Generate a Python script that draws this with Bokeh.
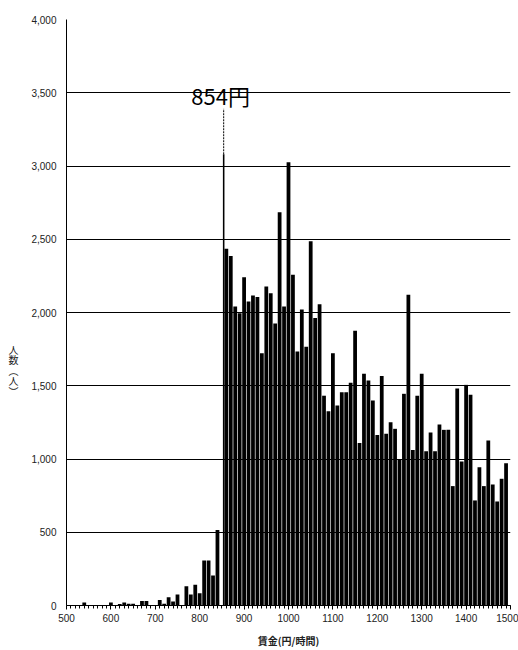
from bokeh.plotting import figure
from bokeh.models import Range1d, NumeralTickFormatter, Label, FixedTicker
from bokeh.embed import file_html
from bokeh.resources import INLINE

# ---- data ----
wages = list(range(500, 1500, 10))
counts = [
    0, 0, 0, 0, 20, 0, 0, 0, 0, 0,            # 500-590
    20, 0, 10, 20, 12, 12, 0, 30, 30, 0,       # 600-690
    0, 38, 12, 57, 28, 75, 0, 132, 75, 141,    # 700-790
    84, 307, 307, 205, 516, 0, 2435, 2385, 2041, 1995,  # 800-890
    2241, 2075, 2116, 2105, 1722, 2177, 2132, 1925, 2685, 2041,  # 900-990
    3026, 2257, 1734, 2020, 1766, 2486, 1962, 2057, 1432, 1326,  # 1000-1090
    1722, 1365, 1456, 1456, 1520, 1876, 1110, 1582, 1536, 1400,  # 1100-1190
    1163, 1566, 1172, 1251, 1206, 1000, 1445, 2121, 1062, 1432,  # 1200-1290
    1582, 1053, 1181, 1053, 1235, 1199, 1199, 815, 1481, 983,    # 1300-1390
    1506, 1438, 717, 944, 815, 1126, 826, 710, 865, 971,         # 1400-1490
]
min_wage = 854
min_wage_count = 3080
x_ticks = list(range(500, 1501, 100))
x_minor = list(range(500, 1501, 10))
y_ticks = list(range(0, 4001, 500))
x_title = "賃金(円/時間)"
y_title_chars = ["人", "数", "︵", "人", "︶"]

FONT = "Liberation Sans"
JP = "Noto Sans CJK JP"

p = figure(width=518, height=650, output_backend="svg", toolbar_location=None,
           x_range=Range1d(500, 1500), y_range=Range1d(0, 4000),
           min_border_left=66, min_border_right=8, min_border_top=19,
           min_border_bottom=45)
p.outline_line_color = None
p.background_fill_color = "white"
p.border_fill_color = "white"

p.vbar(x=wages, top=counts, width=8.5, fill_color="black", line_color=None)
p.vbar(x=[min_wage], top=[min_wage_count], width=3.5, fill_color="black", line_color=None)

# dashed marker above the minimum-wage bar
p.segment(x0=[min_wage], y0=[min_wage_count], x1=[min_wage], y1=[3390],
          line_color="black", line_width=1, line_dash="2 1")
p.add_layout(Label(x=min_wage, y=3486, text=f"{min_wage}円", text_align="center",
                   text_baseline="alphabetic", x_offset=-3,
                   text_font=JP, text_font_size="22px", text_color="black"))

# grid
p.xgrid.grid_line_color = None
p.ygrid.ticker = FixedTicker(ticks=y_ticks)
p.ygrid.grid_line_color = "black"
p.ygrid.grid_line_width = 1

# y axis
p.yaxis.ticker = FixedTicker(ticks=y_ticks)
p.yaxis.formatter = NumeralTickFormatter(format="0,0")
p.yaxis.major_tick_out = 0
p.yaxis.major_tick_in = 0
p.yaxis.minor_tick_out = 0
p.yaxis.minor_tick_in = 0
p.yaxis.major_label_standoff = 10
p.yaxis.major_label_text_font = FONT
p.yaxis.major_label_text_font_size = "10px"
p.yaxis.major_label_text_color = "#222222"
p.yaxis.axis_line_color = "black"
p.yaxis.axis_label = "\n" * 11 + "\n".join(y_title_chars)
p.yaxis.axis_label_orientation = "horizontal"
p.yaxis.axis_label_standoff = 10
p.yaxis.axis_label_text_font = JP
p.yaxis.axis_label_text_font_size = "10px"
p.yaxis.axis_label_text_font_style = "normal"
p.yaxis.axis_label_text_color = "#222222"
p.yaxis.axis_label_text_line_height = 0.7

# x axis
p.xaxis.ticker = FixedTicker(ticks=x_ticks, minor_ticks=x_minor)
p.xaxis.major_tick_out = 4
p.xaxis.major_tick_in = 0
p.xaxis.minor_tick_out = 3
p.xaxis.minor_tick_in = 0
p.xaxis.major_tick_line_color = "black"
p.xaxis.minor_tick_line_color = "black"
p.xaxis.major_label_standoff = 4
p.xaxis.major_label_text_font = FONT
p.xaxis.major_label_text_font_size = "10px"
p.xaxis.major_label_text_color = "#222222"
p.xaxis.axis_line_color = "black"
p.xaxis.axis_label = x_title
p.xaxis.axis_label_standoff = 8
p.xaxis.axis_label_text_font = JP
p.xaxis.axis_label_text_font_size = "10px"
p.xaxis.axis_label_text_font_style = "bold"
p.xaxis.axis_label_text_color = "#222222"

open("out.html", "w").write(file_html(p, INLINE))
